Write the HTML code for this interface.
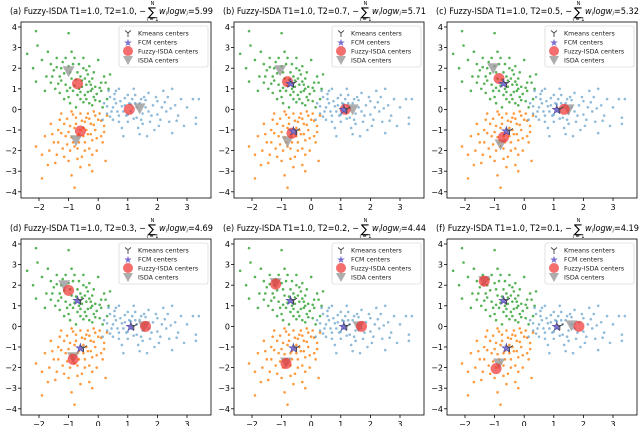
<!DOCTYPE html>
<html><head><meta charset="utf-8"><style>
html,body{margin:0;padding:0;background:#fff;}
svg{display:block;font-family:"DejaVu Sans","Liberation Sans",sans-serif;}
</style></head><body>
<svg id="fig" width="640" height="426" viewBox="0 0 640 426"></svg>
<script>
const green=[[-2.4,2.7],[-2.1,3.8],[-2.05,3.1],[-2.1,1.35],[-2.2,2.0],[-1.9,2.4],[-1.7,2.8],[-1.6,2.2],[-1.5,1.9],[-1.4,2.5],[-1.3,1.6],[-1.2,2.3],[-1.1,1.2],[-1.0,3.7],[-1.0,2.1],[-0.9,1.5],[-0.85,0.9],[-0.8,2.5],[-0.7,1.8],[-0.65,1.0],[-0.6,0.5],[-0.55,1.4],[-0.5,2.0],[-0.45,0.7],[-0.4,1.2],[-0.35,1.7],[-0.3,0.3],[-0.25,0.9],[-0.2,1.5],[-0.15,0.6],[-0.1,1.1],[0.0,2.4],[0.05,0.4],[0.1,0.9],[0.2,1.6],[0.3,0.5],[0.35,1.0],[-1.6,1.3],[-1.45,1.0],[-1.3,0.8],[-1.15,0.5],[-0.95,0.3],[-0.75,0.1],[-1.75,1.6],[-1.25,2.0],[-0.5,2.5],[-0.3,2.1],[0.4,1.7],[-1.05,0.9],[-0.6,1.6],[-0.2,0.2],[0.15,0.1],[-1.8,0.9],[-0.9,2.8],[-0.4,1.9],[0.25,1.3],
[-1.35,1.25],[-1.15,1.75],[-0.95,1.05],[-0.85,2.2],[-0.75,1.45],[-0.7,0.7],[-0.55,1.1],[-0.45,1.5],[-0.35,0.85],[-0.3,1.35],[-0.15,1.8],[-0.05,0.75],[0.1,1.3],[-1.55,1.6],[-1.25,1.4],[-1.1,2.5],[-0.95,1.8],[-0.65,2.2],[-0.5,0.35],[-0.25,1.2],[-0.1,0.45],[0.05,1.05],[-1.4,2.05],[-0.8,1.15],[-0.6,0.85],[-0.4,0.5],[-1.0,0.6],[-0.2,1.0]];
const orange=[[-2.1,-1.8],[-1.9,-3.35],[-1.9,-2.2],[-1.8,-1.3],[-1.7,-2.7],[-1.6,-0.7],[-1.5,-1.6],[-1.4,-2.2],[-1.35,-1.0],[-1.3,-0.5],[-1.2,-1.9],[-1.1,-1.3],[-1.0,-2.5],[-0.95,-0.8],[-0.9,-3.2],[-0.85,-1.6],[-0.8,-3.8],[-0.75,-0.4],[-0.7,-1.9],[-0.65,-1.2],[-0.6,-0.2],[-0.55,-2.3],[-0.5,-0.9],[-0.45,-1.6],[-0.4,-0.4],[-0.35,-1.2],[-0.3,-2.7],[-0.25,-0.7],[-0.2,-1.5],[-0.15,-0.1],[-0.1,-1.0],[-0.05,-2.0],[0.0,-0.5],[0.1,-1.3],[0.2,-0.8],[0.25,-2.5],[0.3,-0.3],[-1.55,-1.2],[-1.25,-0.2],[-1.05,-1.7],[-0.8,-0.9],[-0.6,-2.8],[-0.3,-1.9],[0.05,-0.2],[-0.9,-0.1],[-1.45,-2.6],[-0.7,-1.3],[-0.45,-0.6],[0.15,-1.6],[-1.65,-2.0],[-0.2,-3.0],[-1.15,-0.7],
[-1.25,-1.15],[-1.0,-1.1],[-0.9,-1.35],[-0.75,-0.7],[-0.65,-1.6],[-0.55,-0.55],[-0.5,-1.3],[-0.4,-1.0],[-0.3,-0.45],[-0.25,-1.2],[-0.15,-0.75],[-0.05,-1.4],[0.1,-0.55],[-1.35,-1.6],[-1.15,-2.3],[-0.95,-2.0],[-0.7,-2.4],[-0.45,-2.0],[-0.2,-2.2],[0.2,-1.1],[-1.05,-0.45],[-0.85,-0.25],[-0.35,-0.2],[-0.6,-1.0],[-0.1,-0.3],[-0.8,-1.8]];
const blue=[[0.2,0.3],[0.3,-0.2],[0.4,0.6],[0.5,-0.5],[0.5,0.1],[0.6,0.9],[0.7,-0.3],[0.75,0.4],[0.8,-0.9],[0.9,0.2],[1.0,-0.6],[1.0,0.7],[1.1,-0.1],[1.2,1.0],[1.25,0.3],[1.3,-0.4],[1.4,-1.2],[1.45,0.5],[1.5,-0.7],[1.6,0.1],[1.7,0.8],[1.8,-0.3],[1.9,-1.0],[2.0,0.4],[2.1,-0.5],[2.2,0.9],[2.3,-0.1],[2.4,-0.6],[2.5,1.0],[2.5,-1.15],[2.6,0.2],[2.7,-0.3],[2.8,0.5],[2.9,-0.8],[3.0,0.1],[3.2,0.5],[3.3,-0.4],[3.4,0.5],[3.3,-0.7],[0.35,0.9],[0.65,-0.1],[0.85,-1.3],[1.15,0.5],[1.35,-0.9],[1.55,0.6],[1.75,-0.6],[0.95,-0.3],[0.55,0.5],[1.05,0.3],[2.15,0.1],[0.15,-0.5],[1.65,-1.3],[1.95,0.6],[0.7,1.0],
[0.3,0.15],[0.45,-0.1],[0.6,0.3],[0.7,-0.6],[0.8,0.15],[0.9,0.55],[1.0,-0.25],[1.1,0.25],[1.2,-0.45],[1.3,0.1],[1.4,0.3],[1.5,-0.2],[1.6,0.45],[1.7,-0.1],[1.85,0.2],[2.0,-0.25],[2.25,0.35],[2.45,0.05],[2.65,-0.55],[0.4,-0.35],[0.55,0.75],[0.85,-0.1],[1.25,0.7],[1.45,-0.5],[2.05,-0.8],[2.35,0.6]];
const panelLabels=["a","b","c","d","e","f"];
const t2Values=["1.0","0.7","0.5","0.3","0.2","0.1"];
const entropyValues=["5.99","5.71","5.32","4.69","4.44","4.19"];
const kmeansCenters=[[-0.7,1.25],[-0.6,-1.05],[1.1,0]];
const fcmCenters=[[-0.7,1.25],[-0.6,-1.05],[1.1,0]];
const fuzzyCenters=[
 [[-0.7,1.25],[-0.6,-1.05],[1.05,0]],
 [[-0.8,1.35],[-0.65,-1.15],[1.15,0]],
 [[-0.85,1.5],[-0.7,-1.35],[1.35,0]],
 [[-1.0,1.75],[-0.85,-1.6],[1.6,0]],
 [[-1.2,2.05],[-0.85,-1.8],[1.7,0]],
 [[-1.35,2.2],[-0.95,-2.05],[1.85,0]]];
const isdaCenters=[
 [[-1.0,1.85],[-0.75,-1.5],[1.4,0.05]],
 [[-1.05,1.9],[-0.8,-1.55],[1.4,0]],
 [[-1.05,2.0],[-0.8,-1.7],[1.5,0]],
 [[-1.15,2.0],[-0.85,-1.5],[1.55,0]],
 [[-1.2,2.1],[-0.85,-1.75],[1.6,0]],
 [[-1.35,2.2],[-0.85,-1.8],[1.6,0.05]]];
const xTicks=[-2,-1,0,1,2,3];
const yTicks=[-4,-3,-2,-1,0,1,2,3,4];

const NS="http://www.w3.org/2000/svg";
const svg=document.getElementById('fig');
function mk(tag,attrs,parent){const e=document.createElementNS(NS,tag);for(const k in attrs)e.setAttribute(k,attrs[k]);(parent||svg).appendChild(e);return e;}
const PL=[21,234,447], PT=[22,239], W=190, H=176;
for(let p=0;p<6;p++){
  const L=PL[p%3], T=PT[Math.floor(p/3)];
  const g=mk('g',{});
  
  
  const sx=x=>L+18+(x+2)*29.6;
  const sy=y=>T+5+(4-y)*20.6;
  const fr=mk('rect',{x:L,y:T,width:W,height:H,fill:'#fff',stroke:'#000','stroke-width':0.8},g);
  
  
  xTicks.forEach(v=>{const X=sx(v);mk('line',{x1:X,x2:X,y1:T+H,y2:T+H+3,stroke:'#000','stroke-width':0.8},g);
    const t=mk('text',{x:X,y:T+H+12,'font-size':8,'text-anchor':'middle'},g);t.textContent=(v<0?'\u2212':'')+Math.abs(v);
    });
  yTicks.forEach(v=>{const Y=sy(v);mk('line',{x1:L-3,x2:L,y1:Y,y2:Y,stroke:'#000','stroke-width':0.8},g);
    const t=mk('text',{x:L-4,y:Y+3,'font-size':8,'text-anchor':'end'},g);t.textContent=(v<0?'\u2212':'')+Math.abs(v);
    });
  [[green,'#2ca02c',0.8],[orange,'#ff7f0e',0.8],[blue,'#1f77b4',0.5]].forEach(([arr,c,o])=>{
    arr.forEach(pt=>{const d=mk('circle',{cx:sx(pt[0]),cy:sy(pt[1]),r:1.3,fill:c,'fill-opacity':o},g);
      });
  });
  isdaCenters[p].forEach(c=>{const X=sx(c[0]),Y=sy(c[1]);
    const tr=mk('polygon',{points:`${X-6},${Y-5} ${X+6},${Y-5} ${X},${Y+6}`,fill:'#999','fill-opacity':0.8},g);
    });
  fuzzyCenters[p].forEach(c=>{const f=mk('circle',{cx:sx(c[0]),cy:sy(c[1]),r:5.5,fill:'#f03030','fill-opacity':0.7},g);
    });
  if(p>0){
    fcmCenters.forEach(c=>{const s=mk('text',{x:sx(c[0]),y:sy(c[1])+4,'font-size':12,'text-anchor':'middle',fill:'#7b6fd0',stroke:'#3a3590','stroke-width':0.4},g);s.textContent='\u2605';
      });
    kmeansCenters.forEach(c=>{const X=sx(c[0])+3,Y=sy(c[1]);
      const k=mk('path',{d:`M${X},${Y} L${X},${Y+4} M${X},${Y} L${X-3.5},${Y-2.5} M${X},${Y} L${X+3.5},${Y-2.5}`,stroke:'#444','stroke-width':1,fill:'none'},g);
      });
  }
  const lx=L+98, ly=T+4;
  const lg=mk('g',{},g);
  mk('rect',{x:lx,y:ly,width:89,height:41,rx:2,fill:'#fff','fill-opacity':0.85,stroke:'#ccc','stroke-width':0.6},lg);
  const labs=['Kmeans centers','FCM centers','Fuzzy-ISDA centers','ISDA centers'];
  labs.forEach((s,i)=>{const Y=ly+7+i*9;const X=lx+9;
    if(i==0)mk('path',{d:`M${X},${Y} L${X},${Y+4} M${X},${Y} L${X-3},${Y-2.5} M${X},${Y} L${X+3},${Y-2.5}`,stroke:'#444','stroke-width':0.9,fill:'none'},lg);
    if(i==1){const st=mk('text',{x:X,y:Y+4,'font-size':10,'text-anchor':'middle',fill:'#7b6fd0'},lg);st.textContent='\u2605';}
    if(i==2)mk('circle',{cx:X,cy:Y,r:5,fill:'#f03030','fill-opacity':0.7},lg);
    if(i==3)mk('polygon',{points:`${X-5},${Y-4} ${X+5},${Y-4} ${X},${Y+5}`,fill:'#999','fill-opacity':0.8},lg);
    const t=mk('text',{x:lx+19,y:Y+2.5,'font-size':6.3,fill:'#222'},lg);t.textContent=s;
    });
  const ty=T-8;
  const tg=mk('g',{},g);
  const t0=L-11;
  const t1=mk('text',{x:t0,y:ty,'font-size':8.6,fill:'#000',textLength:136,lengthAdjust:'spacingAndGlyphs'},tg);
  t1.textContent=`(${panelLabels[p]}) Fuzzy-ISDA T1=1.0, T2=${t2Values[p]}, \u2212`;
  const sxp=t0+138;
  const sg=mk('text',{x:sxp,y:ty+2,'font-size':12},tg);sg.textContent='\u2211';
  const n=mk('text',{x:sxp+4.5,y:ty-9,'font-size':5,'text-anchor':'middle'},tg);n.textContent='N';
  const i1=mk('text',{x:sxp+4.5,y:ty+7,'font-size':5,'text-anchor':'middle'},tg);i1.textContent='i = 1';
  const rest=mk('text',{x:sxp+11,y:ty,'font-size':8.6,textLength:54,lengthAdjust:'spacingAndGlyphs'},tg);
  rest.innerHTML=`<tspan font-style="italic">w</tspan><tspan font-style="italic" font-size="5.5" dy="1.5">i</tspan><tspan font-style="italic" dy="-1.5">logw</tspan><tspan font-style="italic" font-size="5.5" dy="1.5">i</tspan><tspan dy="-1.5">=${entropyValues[p]}</tspan>`;
}
</script>
</body></html>
